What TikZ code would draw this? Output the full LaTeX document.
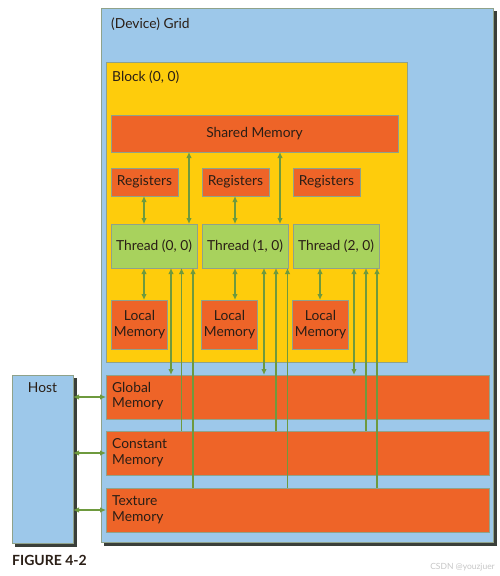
\documentclass[tikz,border=0pt]{standalone}
\usepackage{fontspec}
\setmainfont{Lato}
\usetikzlibrary{arrows.meta}
\definecolor{gridblue}{HTML}{9DC8EA}
\definecolor{blockyellow}{HTML}{FECC0C}
\definecolor{memorange}{HTML}{EE6428}
\definecolor{threadgreen}{HTML}{A8D25D}
\definecolor{arrowgreen}{HTML}{6E9A3E}
\definecolor{bordercol}{HTML}{8FA28A}
\definecolor{shadowcol}{HTML}{3A3F3A}
\definecolor{txt}{HTML}{2A1E16}
\tikzset{
  box/.style={draw=bordercol, line width=0.8pt, rectangle, inner sep=0pt, outer sep=0pt},
  membox/.style={box, fill=memorange},
  thbox/.style={box, fill=threadgreen},
  lbl/.style={text=txt, font=\fontsize{13.8}{15.8}\selectfont, inner sep=0pt},
  arr/.style={draw=arrowgreen, line width=1.5pt, arrows={-}, >={Latex[length=6pt,width=5.5pt]}},
}
\begin{document}
\begin{tikzpicture}[x=1pt,y=-1pt]
\useasboundingbox[fill=white] (0,0) rectangle (500,576);
% shadows
\fill[shadowcol] (104,11) rectangle (496.5,545.5);
\fill[shadowcol] (15,378) rectangle (76.5,546.5);
% grid and block
\node[box, fill=gridblue, minimum width=392pt, minimum height=534pt] (grid) at (297,275) {};
\node[lbl, anchor=west] (gridlbl) at (111,24) {(Device) Grid};
\node[box, fill=blockyellow, minimum width=301pt, minimum height=300pt] (block) at (256.5,212) {};
\node[lbl, anchor=west] (blocklbl) at (112,77) {Block (0, 0)};
% shared memory
\node[membox, minimum width=287pt, minimum height=37pt, lbl] (shared) at (254.5,133.5) {Shared Memory};
% registers
\node[membox, minimum width=67pt, minimum height=28pt, lbl] (reg0) at (144.5,182) {Registers};
\node[membox, minimum width=67pt, minimum height=28pt, lbl] (reg1) at (235.5,182) {Registers};
\node[membox, minimum width=67pt, minimum height=28pt, lbl] (reg2) at (326.5,182) {Registers};
% threads
\node[thbox, minimum width=86pt, minimum height=44pt, lbl] (thread0) at (154,246) {Thread (0, 0)};
\node[thbox, minimum width=86pt, minimum height=44pt, lbl] (thread1) at (245,246) {Thread (1, 0)};
\node[thbox, minimum width=86pt, minimum height=44pt, lbl] (thread2) at (336,246) {Thread (2, 0)};
% local memory
\node[membox, minimum width=56pt, minimum height=49pt, lbl, align=center] (local0) at (139.5,324.5) {Local\\Memory};
\node[membox, minimum width=56pt, minimum height=49pt, lbl, align=center] (local1) at (229.5,324.5) {Local\\Memory};
\node[membox, minimum width=56pt, minimum height=49pt, lbl, align=center] (local2) at (320.5,324.5) {Local\\Memory};
% global, constant, texture
\node[membox, minimum width=383pt, minimum height=44pt] (global) at (297.5,397) {};
\node[lbl, anchor=west, align=left] (globallbl) at (112,396) {Global\\Memory};
\node[membox, minimum width=383pt, minimum height=44pt] (constant) at (297.5,453) {};
\node[lbl, anchor=west, align=left] (constantlbl) at (112,453) {Constant\\Memory};
\node[membox, minimum width=383pt, minimum height=44pt] (texture) at (297.5,510) {};
\node[lbl, anchor=west, align=left] (texturelbl) at (112,510) {Texture\\Memory};
% host
\node[box, fill=gridblue, minimum width=61pt, minimum height=168pt] (host) at (42.5,459) {};
\node[lbl] (hostlbl) at (42.5,388) {Host};
% registers <-> threads
\draw[arr,<->] (reg0.south -| 144,0) -- (thread0.north -| 144,0);
\draw[arr,<->] (reg1.south -| 235,0) -- (thread1.north -| 235,0);
% shared <-> threads
\draw[arr,<->] (shared.south -| 189,0) -- (thread0.north -| 189,0);
\draw[arr,<->] (shared.south -| 280,0) -- (thread1.north -| 280,0);
% threads <-> local
\draw[arr,<->] (thread0.south -| 144,0) -- (local0.north -| 144,0);
\draw[arr,<->] (thread1.south -| 235,0) -- (local1.north -| 235,0);
\draw[arr,<->] (thread2.south -| 320,0) -- (local2.north -| 320,0);
% threads <-> global, constant/texture -> threads
\draw[arr,<->] (thread0.south -| 171,0) -- (global.north -| 171,0);
\draw[arr,->] (constant.north -| 181.5,0) -- (thread0.south -| 181.5,0);
\draw[arr,->] (texture.north -| 193,0) -- (thread0.south -| 193,0);
\draw[arr,<->] (thread1.south -| 264,0) -- (global.north -| 264,0);
\draw[arr,->] (constant.north -| 276,0) -- (thread1.south -| 276,0);
\draw[arr,->] (texture.north -| 287.5,0) -- (thread1.south -| 287.5,0);
\draw[arr,<->] (thread2.south -| 354,0) -- (global.north -| 354,0);
\draw[arr,->] (constant.north -| 366,0) -- (thread2.south -| 366,0);
\draw[arr,->] (texture.north -| 377,0) -- (thread2.south -| 377,0);
% host <-> memories
\draw[arr,<->] (host.east |- global.west) -- (global.west);
\draw[arr,<->] (host.east |- constant.west) -- (constant.west);
\draw[arr,<->] (host.east |- texture.west) -- (texture.west);
% captions
\node[anchor=west, inner sep=0pt, text=txt, font=\fontsize{14}{16}\bfseries\selectfont] (fig) at (12,560) {FIGURE 4-2};
\node[anchor=east, inner sep=0pt, text=black!22, font=\fontsize{8.5}{10}\selectfont] (wm) at (495,567) {CSDN @youzjuer};
\end{tikzpicture}
\end{document}
